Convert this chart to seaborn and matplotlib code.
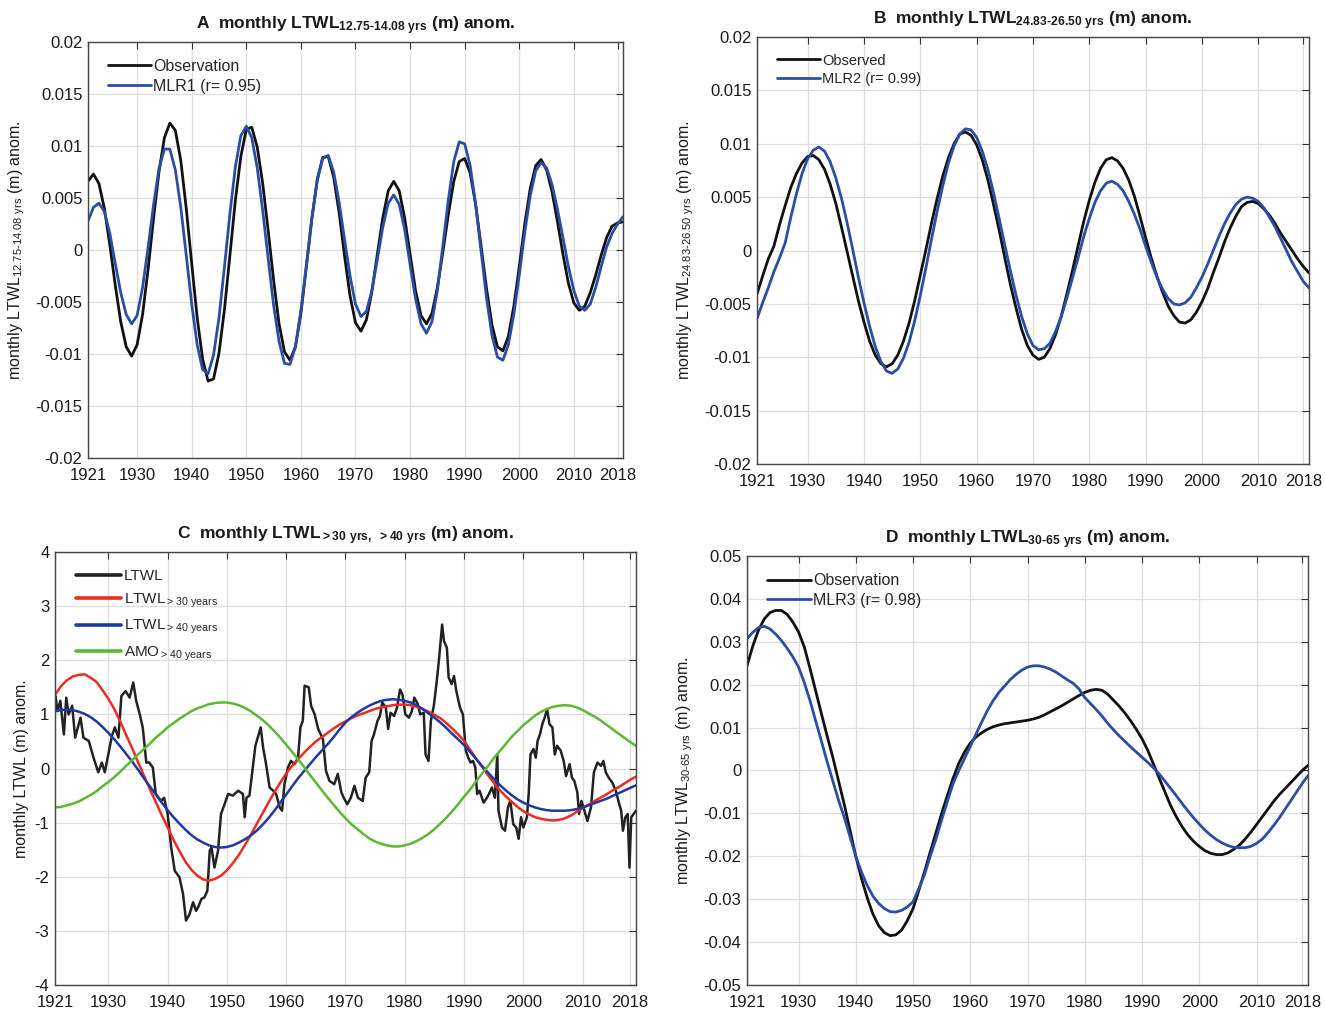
import matplotlib
matplotlib.use("Agg")
import matplotlib.pyplot as plt
import seaborn as sns
import pandas as pd

# ---------------- data ----------------
YEARS = list(range(1921, 2020))

A_OBS = [0.0066, 0.0073, 0.0064, 0.0040, 0.0005, -0.0034, -0.0069, -0.0093, -0.0102, -0.0091,
         -0.0062, -0.0019, 0.0030, 0.0075, 0.0108, 0.0122, 0.0115, 0.0086, 0.0040, -0.0013,
         -0.0065, -0.0105, -0.0126, -0.0124, -0.0099, -0.0057, -0.0005, 0.0048, 0.0090, 0.0116,
         0.0118, 0.0099, 0.0064, 0.0019, -0.0029, -0.0071, -0.0098, -0.0106, -0.0093, -0.0061,
         -0.0016, 0.0030, 0.0068, 0.0089, 0.0090, 0.0070, 0.0036, -0.0006, -0.0044, -0.0070,
         -0.0078, -0.0067, -0.0040, -0.0004, 0.0031, 0.0057, 0.0066, 0.0057, 0.0031, -0.0004,
         -0.0039, -0.0063, -0.0071, -0.0061, -0.0036, -0.0002, 0.0034, 0.0066, 0.0085, 0.0088,
         0.0074, 0.0044, 0.0004, -0.0037, -0.0072, -0.0093, -0.0097, -0.0083, -0.0054, -0.0016,
         0.0025, 0.0059, 0.0081, 0.0087, 0.0077, 0.0056, 0.0027, -0.0004, -0.0032, -0.0051,
         -0.0058, -0.0054, -0.0041, -0.0024, -0.0005, 0.0012, 0.0023, 0.0026, 0.0027]
A_MLR1 = [0.0028, 0.0041, 0.0045, 0.0037, 0.0016, -0.0013, -0.0041, -0.0062, -0.0071, -0.0063,
          -0.0036, 0.0002, 0.0043, 0.0078, 0.0097, 0.0097, 0.0077, 0.0041, -0.0005, -0.0052,
          -0.0091, -0.0115, -0.0119, -0.0101, -0.0065, -0.0016, 0.0035, 0.0080, 0.0110, 0.0119,
          0.0108, 0.0079, 0.0038, -0.0008, -0.0053, -0.0088, -0.0109, -0.0110, -0.0093, -0.0058,
          -0.0015, 0.0030, 0.0067, 0.0088, 0.0091, 0.0075, 0.0046, 0.0010, -0.0025, -0.0052,
          -0.0064, -0.0059, -0.0039, -0.0009, 0.0022, 0.0045, 0.0053, 0.0044, 0.0020, -0.0014,
          -0.0047, -0.0071, -0.0080, -0.0069, -0.0039, 0.0004, 0.0048, 0.0085, 0.0104, 0.0102,
          0.0081, 0.0044, -0.0001, -0.0046, -0.0082, -0.0103, -0.0106, -0.0091, -0.0062, -0.0024,
          0.0017, 0.0052, 0.0076, 0.0084, 0.0079, 0.0063, 0.0039, 0.0012, -0.0016, -0.0039,
          -0.0054, -0.0058, -0.0052, -0.0036, -0.0016, 0.0003, 0.0016, 0.0025, 0.0032]

B_OBS = [-0.0041, -0.0024, -0.0008, 0.0004, 0.0024, 0.0042, 0.0059, 0.0072, 0.0082, 0.0088,
         0.0089, 0.0085, 0.0076, 0.0062, 0.0044, 0.0022, -0.0001, -0.0024, -0.0047, -0.0067,
         -0.0085, -0.0098, -0.0106, -0.0109, -0.0106, -0.0098, -0.0085, -0.0068, -0.0047, -0.0023,
         0.0001, 0.0026, 0.0049, 0.0070, 0.0087, 0.0100, 0.0109, 0.0111, 0.0108, 0.0099,
         0.0085, 0.0066, 0.0043, 0.0019, -0.0007, -0.0032, -0.0054, -0.0074, -0.0089, -0.0098,
         -0.0102, -0.0100, -0.0092, -0.0079, -0.0062, -0.0041, -0.0019, 0.0004, 0.0027, 0.0047,
         0.0064, 0.0077, 0.0085, 0.0087, 0.0084, 0.0077, 0.0066, 0.0051, 0.0032, 0.0012,
         -0.0007, -0.0024, -0.0039, -0.0052, -0.0061, -0.0067, -0.0068, -0.0065, -0.0058, -0.0048,
         -0.0036, -0.0021, -0.0007, 0.0008, 0.0021, 0.0032, 0.0041, 0.0045, 0.0046, 0.0044,
         0.0039, 0.0033, 0.0025, 0.0016, 0.0008, 0.0000, -0.0008, -0.0015, -0.0021]
B_MLR2 = [-0.0064, -0.0049, -0.0035, -0.0020, -0.0007, 0.0007, 0.0031, 0.0053, 0.0072, 0.0086,
          0.0094, 0.0097, 0.0093, 0.0083, 0.0068, 0.0049, 0.0026, 0.0001, -0.0025, -0.0049,
          -0.0071, -0.0090, -0.0104, -0.0113, -0.0115, -0.0111, -0.0101, -0.0086, -0.0066, -0.0042,
          -0.0016, 0.0011, 0.0037, 0.0061, 0.0082, 0.0098, 0.0109, 0.0114, 0.0113, 0.0106,
          0.0093, 0.0076, 0.0054, 0.0030, 0.0005, -0.0019, -0.0042, -0.0062, -0.0078, -0.0089,
          -0.0093, -0.0092, -0.0087, -0.0076, -0.0062, -0.0045, -0.0026, -0.0007, 0.0013, 0.0030,
          0.0045, 0.0056, 0.0063, 0.0065, 0.0062, 0.0056, 0.0046, 0.0034, 0.0020, 0.0004,
          -0.0011, -0.0025, -0.0036, -0.0045, -0.0050, -0.0051, -0.0049, -0.0044, -0.0035, -0.0025,
          -0.0013, 0.0000, 0.0013, 0.0025, 0.0035, 0.0043, 0.0048, 0.0050, 0.0049, 0.0046,
          0.0040, 0.0031, 0.0022, 0.0011, 0.0000, -0.0011, -0.0020, -0.0029, -0.0035]

C_RED = [1.36, 1.52, 1.63, 1.70, 1.73, 1.74, 1.68, 1.60, 1.45, 1.29,
         1.10, 0.87, 0.62, 0.38, 0.12, -0.13, -0.38, -0.62, -0.86, -1.09,
         -1.32, -1.53, -1.72, -1.87, -1.98, -2.05, -2.07, -2.04, -1.98, -1.88,
         -1.75, -1.60, -1.42, -1.23, -1.03, -0.83, -0.63, -0.44, -0.26, -0.09,
         0.05, 0.17, 0.29, 0.40, 0.50, 0.58, 0.66, 0.74, 0.81, 0.87,
         0.93, 0.98, 1.02, 1.06, 1.10, 1.13, 1.15, 1.17, 1.18, 1.18,
         1.17, 1.14, 1.10, 1.05, 0.99, 0.93, 0.84, 0.74, 0.63, 0.51,
         0.35, 0.19, 0.04, -0.12, -0.26, -0.40, -0.51, -0.61, -0.71, -0.79,
         -0.85, -0.90, -0.93, -0.95, -0.96, -0.95, -0.92, -0.87, -0.80, -0.73,
         -0.67, -0.60, -0.54, -0.48, -0.41, -0.35, -0.28, -0.21, -0.15]
C_BLUE = [1.06, 1.08, 1.09, 1.08, 1.05, 1.01, 0.95, 0.87, 0.77, 0.66,
          0.54, 0.41, 0.27, 0.13, -0.02, -0.18, -0.33, -0.48, -0.63, -0.77,
          -0.90, -1.02, -1.13, -1.23, -1.31, -1.37, -1.42, -1.45, -1.46, -1.45,
          -1.42, -1.37, -1.31, -1.24, -1.15, -1.04, -0.92, -0.78, -0.63, -0.48,
          -0.33, -0.18, -0.05, 0.08, 0.21, 0.33, 0.45, 0.58, 0.72, 0.85,
          0.95, 1.03, 1.10, 1.16, 1.21, 1.25, 1.27, 1.28, 1.27, 1.25,
          1.22, 1.17, 1.10, 1.02, 0.94, 0.85, 0.75, 0.64, 0.54, 0.43,
          0.31, 0.18, 0.05, -0.07, -0.19, -0.30, -0.40, -0.49, -0.57, -0.63,
          -0.68, -0.72, -0.75, -0.77, -0.78, -0.78, -0.78, -0.77, -0.75, -0.72,
          -0.68, -0.64, -0.60, -0.56, -0.51, -0.46, -0.41, -0.36, -0.31]
C_GREEN = [-0.72, -0.71, -0.68, -0.65, -0.61, -0.55, -0.49, -0.42, -0.33, -0.25,
           -0.16, -0.06, 0.05, 0.15, 0.26, 0.36, 0.46, 0.57, 0.66, 0.76,
           0.84, 0.92, 0.99, 1.06, 1.11, 1.15, 1.19, 1.21, 1.22, 1.22,
           1.20, 1.17, 1.12, 1.06, 0.98, 0.90, 0.80, 0.69, 0.57, 0.44,
           0.31, 0.17, 0.03, -0.12, -0.26, -0.40, -0.54, -0.67, -0.80, -0.92,
           -1.03, -1.12, -1.21, -1.29, -1.35, -1.39, -1.42, -1.44, -1.44, -1.42,
           -1.39, -1.34, -1.28, -1.21, -1.12, -1.02, -0.91, -0.79, -0.66, -0.52,
           -0.39, -0.24, -0.10, 0.04, 0.19, 0.32, 0.45, 0.58, 0.69, 0.80,
           0.89, 0.98, 1.05, 1.10, 1.14, 1.16, 1.17, 1.16, 1.13, 1.08,
           1.02, 0.96, 0.89, 0.81, 0.73, 0.65, 0.57, 0.49, 0.42]

C_LTWL_T = [1921.0, 1921.1, 1921.4, 1921.9, 1922.5, 1922.9, 1923.3, 1923.9, 1924.4, 1925.3,
            1925.8, 1926.7, 1927.5, 1928.3, 1928.9, 1929.4, 1930.0, 1930.6, 1931.1, 1931.7,
            1932.2, 1932.9, 1933.6, 1934.2, 1934.7, 1935.3, 1935.8, 1936.4, 1936.9, 1937.5,
            1938.0, 1938.9, 1939.4, 1940.0, 1940.6, 1941.2, 1942.0, 1942.6, 1943.1, 1943.7,
            1944.3, 1944.8, 1945.2, 1945.7, 1946.2, 1946.7, 1947.1, 1947.4, 1947.9, 1948.5,
            1949.0, 1949.6, 1950.2, 1951.0, 1951.9, 1952.7, 1953.0, 1953.3, 1953.8, 1954.4,
            1954.8, 1955.2, 1955.7, 1956.1, 1956.6, 1957.2, 1957.8, 1958.3, 1958.9, 1959.3,
            1959.7, 1960.3, 1960.8, 1961.4, 1962.0, 1962.4, 1962.8, 1963.1, 1963.8, 1964.2,
            1964.8, 1965.4, 1966.2, 1966.7, 1967.3, 1968.1, 1968.7, 1969.3, 1969.7, 1970.3,
            1970.9, 1971.5, 1972.1, 1972.9, 1973.4, 1974.0, 1974.4, 1974.8, 1975.4, 1975.8,
            1976.2, 1976.8, 1977.2, 1977.6, 1978.2, 1978.7, 1979.2, 1979.6, 1980.1, 1980.7,
            1981.2, 1981.6, 1982.2, 1982.6, 1983.2, 1983.5, 1984.0, 1984.4, 1984.9, 1985.4,
            1985.8, 1986.1, 1986.3, 1986.6, 1987.1, 1987.4, 1987.9, 1988.3, 1988.7, 1989.3,
            1989.8, 1990.3, 1990.7, 1991.1, 1991.5, 1991.9, 1992.2, 1992.6, 1993.3, 1993.8,
            1994.2, 1994.7, 1995.2, 1995.6, 1995.8, 1996.4, 1996.9, 1997.4, 1997.8, 1998.3,
            1998.8, 1999.2, 1999.6, 2000.0, 2000.6, 2000.9, 2001.2, 2001.7, 2002.1, 2002.4,
            2002.8, 2003.2, 2003.6, 2004.0, 2004.4, 2004.9, 2005.3, 2005.7, 2006.3, 2006.8,
            2007.2, 2007.8, 2008.2, 2008.6, 2009.1, 2009.4, 2009.8, 2010.3, 2010.8, 2011.4,
            2011.9, 2012.5, 2013.1, 2013.5, 2013.9, 2014.4, 2015.0, 2015.6, 2016.1, 2016.5,
            2016.8, 2017.2, 2017.6, 2017.9, 2018.2, 2018.6, 2019.0]
C_LTWL = [1.10, 1.34, 1.06, 1.25, 0.63, 1.31, 1.00, 1.16, 0.57, 0.94,
          0.57, 0.51, 0.20, -0.07, 0.11, -0.07, 0.26, 0.60, 0.76, 0.57,
          1.34, 1.43, 1.31, 1.59, 1.25, 1.00, 0.76, 0.11, 0.11, 0.02,
          -0.47, -0.60, -0.54, -0.84, -1.46, -1.89, -2.01, -2.32, -2.81, -2.69,
          -2.47, -2.63, -2.55, -2.41, -2.38, -2.26, -1.52, -1.46, -1.83, -1.52,
          -0.84, -0.66, -0.47, -0.50, -0.41, -0.47, -0.90, -0.54, -0.50, 0.05,
          0.42, 0.57, 0.76, 0.39, 0.08, -0.35, -0.41, -0.47, -0.72, -0.78,
          -0.29, 0.02, 0.14, 0.08, 0.20, 0.76, 0.88, 1.53, 1.50, 1.16,
          1.00, 0.73, 0.54, -0.04, -0.23, -0.29, -0.10, -0.44, -0.54, -0.66,
          -0.54, -0.32, -0.54, -0.60, -0.17, -0.07, 0.51, 0.63, 0.88, 0.97,
          1.22, 1.13, 0.73, 1.03, 0.97, 1.13, 1.46, 1.37, 1.00, 0.94,
          1.06, 1.31, 1.19, 1.00, 1.03, 0.26, 0.14, 0.88, 1.16, 1.62,
          2.05, 2.42, 2.66, 2.36, 2.23, 1.68, 1.56, 1.71, 1.43, 1.13,
          1.00, 0.33, 0.20, 0.11, 0.14, 0.02, -0.47, -0.41, -0.63, -0.55,
          -0.47, -0.35, -0.54, 0.26, -0.78, -1.09, -1.15, -0.72, -0.60, -1.03,
          -1.09, -1.30, -0.90, -1.09, -0.90, -0.47, 0.26, 0.36, 0.20, 0.51,
          0.63, 0.82, 0.94, 1.10, 0.82, 0.76, 0.26, 0.42, 0.33, 0.14,
          -0.14, 0.08, -0.17, -0.23, -0.44, -0.84, -0.60, -0.78, -0.97, -0.72,
          -0.07, 0.11, 0.05, 0.14, -0.07, -0.17, -0.26, -0.41, -0.63, -0.78,
          -1.15, -0.90, -0.84, -1.83, -0.90, -0.84, -0.78]

D_OBS = [0.0244, 0.0290, 0.0327, 0.0353, 0.0368, 0.0373, 0.0373, 0.0364, 0.0346, 0.0323,
         0.0288, 0.0238, 0.0185, 0.0132, 0.0080, 0.0030, -0.0025, -0.0080, -0.0140, -0.0200,
         -0.0252, -0.0297, -0.0335, -0.0362, -0.0378, -0.0385, -0.0383, -0.0372, -0.0350, -0.0322,
         -0.0280, -0.0236, -0.0190, -0.0145, -0.0100, -0.0058, -0.0018, 0.0017, 0.0043, 0.0064,
         0.0078, 0.0088, 0.0096, 0.0102, 0.0106, 0.0109, 0.0111, 0.0113, 0.0115, 0.0117,
         0.0120, 0.0124, 0.0130, 0.0137, 0.0144, 0.0151, 0.0159, 0.0167, 0.0175, 0.0182,
         0.0187, 0.0189, 0.0187, 0.0178, 0.0164, 0.0150, 0.0134, 0.0116, 0.0096, 0.0074,
         0.0047, 0.0015, -0.0018, -0.0050, -0.0082, -0.0108, -0.0131, -0.0150, -0.0165, -0.0177,
         -0.0187, -0.0193, -0.0196, -0.0196, -0.0192, -0.0184, -0.0174, -0.0160, -0.0144, -0.0126,
         -0.0108, -0.0090, -0.0072, -0.0056, -0.0042, -0.0028, -0.0014, 0.0000, 0.0012]
D_MLR3 = [0.0307, 0.0322, 0.0333, 0.0336, 0.0330, 0.0318, 0.0303, 0.0285, 0.0265, 0.0241,
          0.0205, 0.0163, 0.0115, 0.0068, 0.0020, -0.0025, -0.0070, -0.0110, -0.0155, -0.0200,
          -0.0237, -0.0268, -0.0293, -0.0310, -0.0322, -0.0329, -0.0330, -0.0326, -0.0318, -0.0306,
          -0.0275, -0.0243, -0.0200, -0.0160, -0.0115, -0.0072, -0.0030, 0.0000, 0.0028, 0.0056,
          0.0085, 0.0113, 0.0140, 0.0163, 0.0182, 0.0197, 0.0212, 0.0224, 0.0234, 0.0241,
          0.0244, 0.0244, 0.0241, 0.0236, 0.0229, 0.0220, 0.0211, 0.0203, 0.0190, 0.0170,
          0.0156, 0.0142, 0.0127, 0.0110, 0.0095, 0.0081, 0.0068, 0.0055, 0.0043, 0.0031,
          0.0019, 0.0006, -0.0008, -0.0025, -0.0042, -0.0059, -0.0077, -0.0094, -0.0110, -0.0125,
          -0.0139, -0.0151, -0.0161, -0.0169, -0.0175, -0.0179, -0.0180, -0.0180, -0.0177, -0.0170,
          -0.0160, -0.0145, -0.0128, -0.0110, -0.0090, -0.0070, -0.0050, -0.0030, -0.0012]

XTICKS = [1921, 1930, 1940, 1950, 1960, 1970, 1980, 1990, 2000, 2010, 2018]
XTICK_LABELS = ["1921", "1930", "1940", "1950", "1960", "1970", "1980", "1990", "2000", "2010", "2018"]
AB_TICKS = [-0.02, -0.015, -0.01, -0.005, 0, 0.005, 0.01, 0.015, 0.02]
AB_LABELS = ["-0.02", "-0.015", "-0.01", "-0.005", "0", "0.005", "0.01", "0.015", "0.02"]
C_TICKS = [-4, -3, -2, -1, 0, 1, 2, 3, 4]
C_LABELS = ["-4", "-3", "-2", "-1", "0", "1", "2", "3", "4"]
D_TICKS = [-0.05, -0.04, -0.03, -0.02, -0.01, 0, 0.01, 0.02, 0.03, 0.04, 0.05]
D_LABELS = ["-0.05", "-0.04", "-0.03", "-0.02", "-0.01", "0", "0.01", "0.02", "0.03", "0.04", "0.05"]

# ---------------- style ----------------
sns.set_theme(style="white")
plt.rcParams["font.family"] = ["Liberation Sans", "DejaVu Sans"]
plt.rcParams["mathtext.default"] = "regular"

BLACK = "#111111"
BLUE = "#2a4ea6"
RED = "#ee2b22"
DBLUE = "#1f3a9e"
GREEN = "#5cb833"
TXT = "#1a1a1a"

fig = plt.figure(figsize=(13.25, 10.14), dpi=100)
axA = fig.add_axes([0.0664, 0.5483, 0.4038, 0.4103])
axB = fig.add_axes([0.5713, 0.5424, 0.4166, 0.4211])
axC = fig.add_axes([0.0415, 0.0286, 0.4385, 0.4270])
axD = fig.add_axes([0.5638, 0.0286, 0.4234, 0.4231])


def style_axis(ax, ylim, yticks, ylabels):
    ax.set_xlim(1921, 2019)
    ax.set_xticks(XTICKS)
    ax.set_xticklabels(XTICK_LABELS)
    ax.set_ylim(*ylim)
    ax.set_yticks(yticks)
    ax.set_yticklabels(ylabels)
    ax.grid(True, color="#dedede", lw=0.9)
    ax.set_axisbelow(True)
    ax.tick_params(direction="in", top=True, right=True, length=5, width=0.8,
                   labelsize=12, color="#333333", labelcolor=TXT, pad=4)
    ax.tick_params(axis="x", pad=7)
    for s in ax.spines.values():
        s.set_visible(True)
        s.set_color("#444444")
        s.set_linewidth(1.0)
    ax.set_xlabel("")


def line(ax, x, y, color, lw, label):
    df = pd.DataFrame({"x": x, "y": y})
    sns.lineplot(data=df, x="x", y="y", ax=ax, color=color, lw=lw, label=label,
                 estimator=None, sort=False, legend=False)


# ---------------- panel A ----------------
line(axA, YEARS, A_OBS, BLACK, 2.0, "Observation")
line(axA, YEARS, A_MLR1, BLUE, 2.0, "MLR1 (r= 0.95)")
style_axis(axA, (-0.02, 0.02), AB_TICKS, AB_LABELS)
axA.set_title("A  monthly LTWL$_{12.75‐14.08\\ yrs}$ (m) anom.", fontsize=12.5,
              fontweight="bold", pad=9, color=TXT)
axA.set_ylabel("monthly LTWL$_{12.75‐14.08\\ yrs}$ (m) anom.", fontsize=11.5, color=TXT, labelpad=6)
axA.legend(loc="upper left", bbox_to_anchor=(0.025, 0.975), frameon=False, fontsize=11.5,
           handlelength=2.7, handletextpad=0.15, labelspacing=0.3, borderaxespad=0)

# ---------------- panel B ----------------
line(axB, YEARS, B_OBS, BLACK, 2.0, "Observed")
line(axB, YEARS, B_MLR2, BLUE, 2.0, "MLR2 (r= 0.99)")
style_axis(axB, (-0.02, 0.02), AB_TICKS, AB_LABELS)
axB.set_title("B  monthly LTWL$_{24.83‐26.50\\ yrs}$ (m) anom.", fontsize=12.5,
              fontweight="bold", pad=9, color=TXT)
axB.set_ylabel("monthly LTWL$_{24.83‐26.50\\ yrs}$ (m) anom.", fontsize=11.5, color=TXT, labelpad=6)
axB.legend(loc="upper left", bbox_to_anchor=(0.025, 0.975), frameon=False, fontsize=10.5,
           handlelength=3.0, handletextpad=0.1, labelspacing=0.3, borderaxespad=0)

# ---------------- panel C ----------------
line(axC, C_LTWL_T, C_LTWL, "#222222", 1.8, "LTWL")
line(axC, YEARS, C_RED, RED, 1.8, "LTWL$_{{>}30\\ years}$")
line(axC, YEARS, C_BLUE, DBLUE, 1.8, "LTWL$_{{>}40\\ years}$")
line(axC, YEARS, C_GREEN, GREEN, 1.8, "AMO$_{{>}40\\ years}$")
style_axis(axC, (-4, 4), C_TICKS, C_LABELS)
axC.set_title("C  monthly LTWL$_{> 30\\ yrs,\\ > 40\\ yrs}$ (m) anom.", fontsize=12.5,
              fontweight="bold", pad=9, color=TXT)
axC.set_ylabel("monthly LTWL (m) anom.", fontsize=11.5, color=TXT, labelpad=4)
legC = axC.legend(loc="upper left", bbox_to_anchor=(0.025, 0.975), frameon=False, fontsize=11,
                  handlelength=3.0, handletextpad=0.15, labelspacing=0.55, borderaxespad=0)
for h in legC.get_lines():
    h.set_linewidth(2.6)

# ---------------- panel D ----------------
line(axD, YEARS, D_OBS, BLACK, 2.0, "Observation")
line(axD, YEARS, D_MLR3, BLUE, 2.0, "MLR3 (r= 0.98)")
style_axis(axD, (-0.05, 0.05), D_TICKS, D_LABELS)
axD.set_title("D  monthly LTWL$_{30‐65\\ yrs}$ (m) anom.", fontsize=12.5,
              fontweight="bold", pad=9, color=TXT)
axD.set_ylabel("monthly LTWL$_{30‐65\\ yrs}$ (m) anom.", fontsize=11.5, color=TXT, labelpad=6)
axD.legend(loc="upper left", bbox_to_anchor=(0.025, 0.975), frameon=False, fontsize=11.5,
           handlelength=2.7, handletextpad=0.15, labelspacing=0.3, borderaxespad=0)

fig.savefig("out.png", dpi=100)
